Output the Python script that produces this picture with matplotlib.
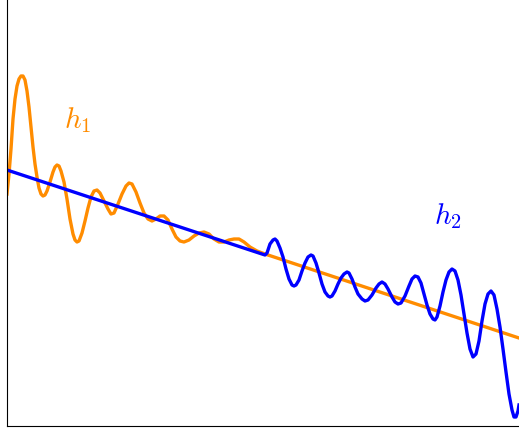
import matplotlib.pyplot as plt

plt.rcParams['mathtext.fontset'] = 'cm'

# h1: oscillating part then straight part (x, y)
h1_x = [0, 2, 4, 6, 8, 10, 12, 14, 16, 18, 20, 22, 24, 26, 28, 30, 32, 34, 36, 38,
        40, 43, 46, 48, 50, 52, 54, 57, 60, 63, 66, 68, 70, 72, 75, 78, 81, 84, 87, 90,
        93, 97, 101, 104, 107, 111, 115, 119, 122, 125, 129, 133, 137, 141, 145, 149,
        153, 157, 161, 165, 169, 173, 177, 182, 187, 192, 197, 202, 207, 212, 217, 222,
        227, 232, 237, 243, 250, 258, 512]
h1_y = [232, 252, 277, 307, 327, 340, 347, 350, 350, 346, 335, 319, 299, 279, 262, 249,
        238, 232, 230, 231, 235, 244, 254, 259, 261, 260, 255, 244, 227, 207, 192, 186,
        184, 185, 193, 205, 218, 229, 235, 236, 233, 225, 217, 212, 213, 222, 232, 240,
        243, 242, 234, 223, 213, 207, 205, 207, 210, 210, 206, 197, 189, 185, 184, 186,
        190, 193, 194, 192, 187, 184, 184, 186, 187, 187, 184, 179, 175, 172, 88]

# h2: straight part then oscillating part
h2_x = [0, 258, 260, 263, 266, 268, 270, 273, 276, 279, 282, 285, 287, 289, 292, 295,
        298, 301, 304, 306, 309, 312, 315, 318, 321, 323, 325, 328, 331, 334, 337, 340,
        342, 345, 348, 351, 355, 358, 361, 365, 369, 372, 375, 378, 381, 385, 388, 391,
        394, 398, 402, 405, 408, 411, 414, 417, 420, 423, 426, 428, 430, 433, 436, 439,
        442, 445, 448, 451, 454, 457, 460, 463, 466, 469, 472, 475, 478, 481, 484, 487,
        490, 493, 496, 499, 502, 505, 507, 509, 511, 512]
h2_y = [256, 171, 173, 182, 186, 187, 185, 178, 169, 157, 147, 141, 140, 141, 146, 155,
        163, 169, 171, 170, 163, 153, 142, 134, 130, 129, 130, 135, 142, 148, 152, 154,
        153, 147, 139, 132, 127, 125, 126, 131, 138, 142, 144, 142, 137, 129, 124, 122,
        123, 130, 140, 147, 150, 149, 143, 132, 121, 112, 107, 106, 109, 120, 134, 146,
        154, 157, 155, 146, 131, 112, 93, 77, 69, 72, 85, 105, 122, 132, 135, 131, 117,
        99, 77, 54, 32, 16, 9, 9, 15, 21]

fig = plt.figure(figsize=(5.19, 4.31), dpi=100)
ax = fig.add_axes([7 / 519, 4 / 431, 1 - 7 / 519, 1 - 4 / 431])

ax.plot(h1_x, h1_y, color='darkorange', linewidth=2.4)
ax.plot(h2_x, h2_y, color='blue', linewidth=2.4)

ax.text(71, 307, r'$h_1$', color='darkorange', fontsize=21, ha='center', va='center')
ax.text(441, 211, r'$h_2$', color='blue', fontsize=21, ha='center', va='center')

ax.set_xlim(0, 512)
ax.set_ylim(0, 427)
ax.spines['top'].set_visible(False)
ax.spines['right'].set_visible(False)
ax.set_xticks([])
ax.set_yticks([])

fig.savefig('out.png', dpi=100)
